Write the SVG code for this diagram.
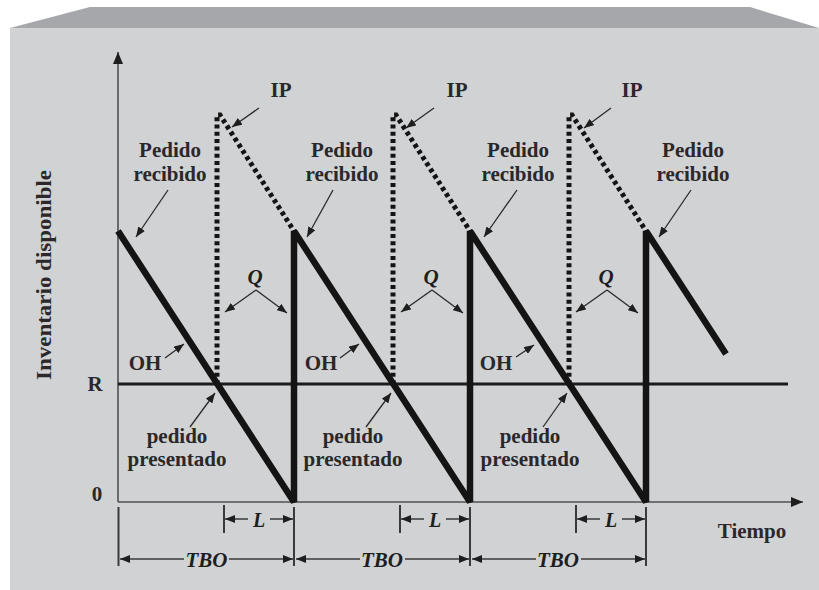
<svg xmlns="http://www.w3.org/2000/svg" width="819" height="590" viewBox="0 0 819 590">
<style>
.lbl{font-family:"Liberation Serif","Times New Roman",serif;font-weight:bold;font-size:21px;fill:#2a282b;text-anchor:middle}
.ital{font-family:"Liberation Serif","Times New Roman",serif;font-weight:bold;font-style:italic;fill:#1e1d1f;text-anchor:middle}
.thin{fill:none;stroke:#2a2a2a;stroke-width:1.3}
.dim{fill:none;stroke:#3a3a3a;stroke-width:1.5}
.tick{fill:none;stroke:#3a3a3a;stroke-width:2}
.axis{fill:none;stroke:#505050;stroke-width:1.6}
.saw{fill:none;stroke:#141414;stroke-width:6.5;stroke-linejoin:bevel}
.ip{fill:none;stroke:#141414;stroke-width:5;stroke-dasharray:4 3.3}
</style>
<defs>
<marker id="ah" viewBox="0 0 10 8" refX="10" refY="4" markerWidth="10" markerHeight="8" markerUnits="userSpaceOnUse" orient="auto"><path d="M0,0 L10,4 L0,8 z" fill="#1e1e1e"/></marker>
<marker id="axh" viewBox="0 0 12 10" refX="12" refY="5" markerWidth="12" markerHeight="10" markerUnits="userSpaceOnUse" orient="auto"><path d="M0,0 L12,5 L0,10 z" fill="#1e1e1e"/></marker>
</defs>
<rect x="10" y="28" width="809" height="562" fill="#d1d2d4"/>
<polygon points="10,28 90,7 750,7 819,28" fill="#a6a7aa"/>

<g id="chart">
<path class="axis" d="M118,502 V52" marker-end="url(#axh)"/>
<path class="axis" d="M118,502 H803" marker-end="url(#axh)"/>
<path d="M118,384 H788" stroke="#1c1c1c" stroke-width="3" fill="none"/>
<path class="ip" d="M217,384 V115 H220 L294,231"/>
<path class="ip" d="M393,384 V115 H396 L470,231"/>
<path class="ip" d="M569,384 V115 H572 L646,231"/>
<path class="saw" d="M118,231 L294,502 V231 L470,502 V231 L646,502 V231 L726,354"/>
</g>

<g id="connectors">
<path class="thin" d="M168,190 L136,237" marker-end="url(#ah)"/>
<path class="thin" d="M333,190 L307,237" marker-end="url(#ah)"/>
<path class="thin" d="M517,190 L484,237" marker-end="url(#ah)"/>
<path class="thin" d="M691,190 L659,237" marker-end="url(#ah)"/>
<path class="thin" d="M259,108 L232,127" marker-end="url(#ah)"/>
<path class="thin" d="M434,108 L406,128" marker-end="url(#ah)"/>
<path class="thin" d="M611,108 L584,128" marker-end="url(#ah)"/>
<path class="thin" d="M256,290 L225,312" marker-end="url(#ah)"/>
<path class="thin" d="M256,290 L287,313" marker-end="url(#ah)"/>
<path class="thin" d="M432,290 L401,312" marker-end="url(#ah)"/>
<path class="thin" d="M432,290 L463,313" marker-end="url(#ah)"/>
<path class="thin" d="M607,290 L576,312" marker-end="url(#ah)"/>
<path class="thin" d="M607,290 L638,313" marker-end="url(#ah)"/>
<path class="thin" d="M165,358 L184,344" marker-end="url(#ah)"/>
<path class="thin" d="M340,358 L359,344" marker-end="url(#ah)"/>
<path class="thin" d="M516,357 L534,345" marker-end="url(#ah)"/>
<path class="thin" d="M190,427 L215,393" marker-end="url(#ah)"/>
<path class="thin" d="M366,427 L391,393" marker-end="url(#ah)"/>
<path class="thin" d="M543,427 L567,393" marker-end="url(#ah)"/>
<path class="tick" d="M118.5,507 V566 M294,507 V566 M470,507 V566 M646,507 V566 M224,505 V533 M400,505 V533 M576,505 V533"/>
<path class="dim" d="M248,519 H225" marker-end="url(#ah)"/>
<path class="dim" d="M270,519 H293" marker-end="url(#ah)"/>
<path class="dim" d="M424,519 H401" marker-end="url(#ah)"/>
<path class="dim" d="M446,519 H469" marker-end="url(#ah)"/>
<path class="dim" d="M600,519 H577" marker-end="url(#ah)"/>
<path class="dim" d="M622,519 H645" marker-end="url(#ah)"/>
<path class="dim" d="M184,559 H120" marker-end="url(#ah)"/>
<path class="dim" d="M229,559 H293" marker-end="url(#ah)"/>
<path class="dim" d="M360,559 H296" marker-end="url(#ah)"/>
<path class="dim" d="M405,559 H469" marker-end="url(#ah)"/>
<path class="dim" d="M536,559 H472" marker-end="url(#ah)"/>
<path class="dim" d="M581,559 H645" marker-end="url(#ah)"/>
</g>

<g id="axis-labels">
<text class="lbl" transform="translate(51,275) rotate(-90)" style="font-size:20px" textLength="210" lengthAdjust="spacingAndGlyphs">Inventario disponible</text>
<text class="lbl" x="95" y="391">R</text>
<text class="lbl" x="97" y="501">0</text>
<text class="lbl" x="752" y="538">Tiempo</text>
</g>

<g id="pedido-recibido-1"><text class="lbl" x="170" y="157">Pedido</text><text class="lbl" x="170" y="181">recibido</text></g>
<g id="pedido-recibido-2"><text class="lbl" x="342" y="157">Pedido</text><text class="lbl" x="342" y="181">recibido</text></g>
<g id="pedido-recibido-3"><text class="lbl" x="518" y="157">Pedido</text><text class="lbl" x="518" y="181">recibido</text></g>
<g id="pedido-recibido-4"><text class="lbl" x="693" y="157">Pedido</text><text class="lbl" x="693" y="181">recibido</text></g>

<g id="ip-1"><text class="lbl" x="281" y="97">IP</text></g>
<g id="ip-2"><text class="lbl" x="457" y="97">IP</text></g>
<g id="ip-3"><text class="lbl" x="632" y="97">IP</text></g>

<g id="q-1"><text class="ital" x="255" y="284" font-size="21">Q</text></g>
<g id="q-2"><text class="ital" x="431" y="284" font-size="21">Q</text></g>
<g id="q-3"><text class="ital" x="606" y="284" font-size="21">Q</text></g>

<g id="oh-1"><text class="lbl" x="145" y="370">OH</text></g>
<g id="oh-2"><text class="lbl" x="321" y="370">OH</text></g>
<g id="oh-3"><text class="lbl" x="496" y="370">OH</text></g>

<g id="pedido-presentado-1"><text class="lbl" x="177" y="443">pedido</text><text class="lbl" x="177" y="466">presentado</text></g>
<g id="pedido-presentado-2"><text class="lbl" x="353" y="443">pedido</text><text class="lbl" x="353" y="466">presentado</text></g>
<g id="pedido-presentado-3"><text class="lbl" x="530" y="443">pedido</text><text class="lbl" x="530" y="466">presentado</text></g>

<g id="dimension-labels">
<text class="ital" x="259" y="527" font-size="20">L</text>
<text class="ital" x="435" y="527" font-size="20">L</text>
<text class="ital" x="611" y="527" font-size="20">L</text>
<text class="ital" x="206.5" y="567" font-size="21">TBO</text>
<text class="ital" x="382" y="567" font-size="21">TBO</text>
<text class="ital" x="558" y="567" font-size="21">TBO</text>
</g>
</svg>
